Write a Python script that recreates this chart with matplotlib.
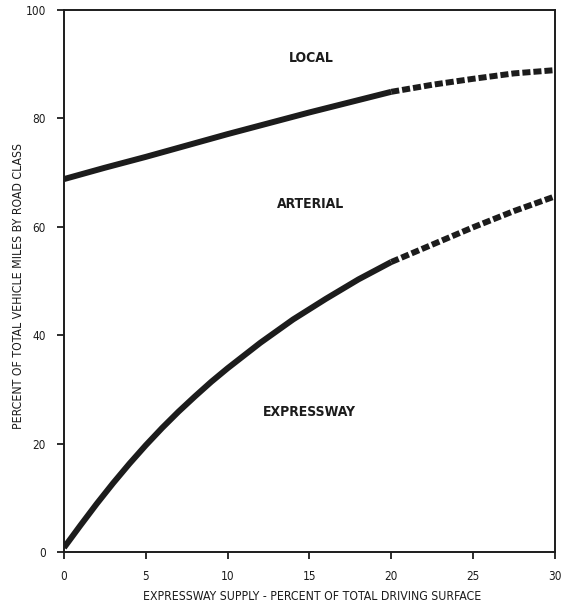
import matplotlib
matplotlib.use("Agg")
import matplotlib.pyplot as plt

# Expressway supply (% of total driving surface)
supply_upper_solid = [0, 2.5, 5, 7.5, 10, 12.5, 15, 17.5, 20]
supply_lower_solid = [0, 1, 2, 3, 4, 5, 6, 7, 8, 9, 10, 12, 14, 16, 18, 20]
supply_dashed = [20, 22.5, 25, 27.5, 30]

# Upper boundary: expressway + arterial share of vehicle miles
upper_solid = [68.8, 70.9, 72.9, 75.0, 77.1, 79.1, 81.1, 83.0, 84.9]
upper_dashed = [84.9, 86.2, 87.3, 88.3, 88.9]

# Lower boundary: expressway share of vehicle miles
lower_solid = [0.8, 4.9, 8.9, 12.7, 16.3, 19.7, 22.9, 25.9, 28.7, 31.4,
               33.9, 38.6, 42.9, 46.7, 50.3, 53.5]
lower_dashed = [53.5, 56.7, 59.9, 62.9, 65.6]

region_labels = ["LOCAL", "ARTERIAL", "EXPRESSWAY"]
region_pos = [(15.1, 91.1), (15.1, 64.2), (15.0, 25.8)]

x_ticks = [0, 5, 10, 15, 20, 25, 30]
y_ticks = [0, 20, 40, 60, 80, 100]

ink = "#1c1c1c"
font = dict(family="DejaVu Sans", fontstretch="condensed", color=ink)

fig = plt.figure(figsize=(5.65, 6.05), dpi=100)
ax = fig.add_axes([0.1133, 0.0876, 0.8687, 0.8959])

lw = 4.3
for xs, ys in [(supply_upper_solid, upper_solid),
               (supply_lower_solid, lower_solid)]:
    ax.plot(xs, ys, color=ink, lw=lw, solid_capstyle="butt",
            solid_joinstyle="round")
for ys in [upper_dashed, lower_dashed]:
    ax.plot(supply_dashed, ys, color=ink, lw=lw, dashes=(1.35, 0.5),
            dash_capstyle="butt")

for text, (x, y) in zip(region_labels, region_pos):
    ax.text(x, y, text, ha="center", va="center", fontsize=10,
            fontweight="bold", **font)

ax.set_xlim(0, 30)
ax.set_ylim(0, 100)
ax.set_xticks(x_ticks)
ax.set_yticks(y_ticks)
ax.set_xticklabels([str(v) for v in x_ticks], fontsize=8.5, **font)
ax.set_yticklabels([str(v) for v in y_ticks], fontsize=8.5, **font)
ax.tick_params(direction="out", length=5, width=1.3, color=ink, pad=8)

for s in ax.spines.values():
    s.set_linewidth(1.4)
    s.set_color(ink)

ax.set_xlabel("EXPRESSWAY SUPPLY - PERCENT OF TOTAL DRIVING SURFACE",
              fontsize=8.8, va="center", **font)
ax.set_ylabel("PERCENT OF TOTAL VEHICLE MILES BY ROAD CLASS",
              fontsize=8.8, va="center", **font)
ax.xaxis.set_label_coords(0.505, -0.083)
ax.yaxis.set_label_coords(-0.092, 0.49)

fig.savefig("out.png", dpi=100, facecolor="white")
